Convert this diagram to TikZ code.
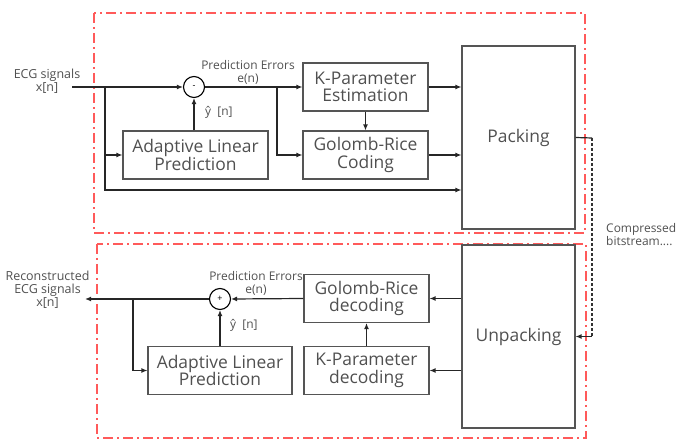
\documentclass[tikz,border=0pt]{standalone}
\usepackage{fontspec}
\setmainfont{Open Sans}
\usetikzlibrary{arrows.meta}
\definecolor{redline}{HTML}{FF5A5A}
\definecolor{boxgray}{HTML}{555555}
\definecolor{txtgray}{HTML}{505050}
\tikzset{
  blk/.style={draw=boxgray, line width=1.1bp, minimum width=125bp, minimum height=48bp, align=center, inner sep=0pt,
    font=\fontsize{17.5}{17.5}\selectfont, text=txtgray},
  bigblk/.style={blk, minimum width=113bp, minimum height=183bp},
  sumnode/.style={circle, draw=black, line width=1.1bp, minimum size=21bp, inner sep=0pt, font=\fontsize{9}{9}\selectfont},
  conn/.style={line width=1.2bp, draw=black!85},
  arr/.style={conn, -{Latex[length=6bp,width=5bp]}},
  lbl/.style={font=\fontsize{12}{13}\selectfont, text=txtgray, align=center, inner sep=0pt},
  region/.style={draw=redline, line width=1.4bp, dash pattern=on 10bp off 4bp on 2bp off 4bp},
  bits/.style={draw=black!80, line width=2bp, dash pattern=on 3bp off 2bp}
}
\begin{document}
\begin{tikzpicture}[x=1bp,y=-1bp]
\useasboundingbox (0,0) rectangle (678,439);
% regions
\draw[region] (94,13) rectangle (585,233);
\draw[region] (97,244) rectangle (586,438);

% top blocks
\node[blk, minimum width=145bp] (alp1) at (195.5,155) {Adaptive Linear\\Prediction};
\node[blk] (kpe) at (365.5,87) {K-Parameter\\Estimation};
\node[blk] (grc) at (365.5,155) {Golomb-Rice\\Coding};
\node[bigblk] (pack) at (518.5,137.5) {Packing};
\node[sumnode] (sub) at (194,87) {-};

% bottom blocks
\node[blk] (grd) at (366.5,298.5) {Golomb-Rice\\decoding};
\node[blk] (kpd) at (366.5,370.5) {K-Parameter\\decoding};
\node[blk, minimum width=144bp] (alp2) at (220,370.5) {Adaptive Linear\\Prediction};
\node[bigblk] (unpack) at (518.5,336.5) {Unpacking};
\node[sumnode] (add) at (220,299) {+};

% labels
\node[lbl, font=\fontsize{12.5}{13}\selectfont] (lin) at (47,81) {ECG signals\\x[n]};
\node[lbl] (pe1) at (248,72) {Prediction Errors\\e(n)};
\node[lbl, anchor=west] (yh1) at (205,112) {ŷ\ \ [n]};
\node[lbl, font=\fontsize{12.5}{13}\selectfont] (lout) at (47.5,290) {Reconstructed\\ECG signals\\x[n]};
\node[lbl] (pe2) at (256,283.5) {Prediction Errors\\e(n)};
\node[lbl, anchor=west] (yh2) at (230,325) {ŷ\ \ [n]};
\node[lbl, align=left, anchor=west] (cb) at (606,234.5) {Compressed\\bitstream....};

% top connectors
\coordinate (in1) at (72,87);
\coordinate (b1) at (105,87);
\coordinate (b1d) at (105,190);
\coordinate (b2) at (277,87);
\draw[arr] (in1) -- (sub.west);
\draw[arr] (b1) |- (alp1.west);
\draw[arr] (b1) -- (b1d) -- (b1d -| pack.west);
\draw[arr] (alp1.north -| sub.south) -- (sub.south);
\draw[arr] (sub.east) -- (kpe.west);
\draw[arr] (b2) |- (grc.west);
\draw[arr] (kpe.south) -- (grc.north);
\draw[arr] (kpe.east) -- (kpe.east -| pack.west);
\draw[arr] (grc.east) -- (grc.east -| pack.west);

% bitstream
\coordinate (bs1) at (592,138);
\coordinate (bs2) at (592,336.5);
\draw[conn] (pack.east) -- (bs1);
\draw[bits] (bs1) -- (bs2);
\draw[arr] (bs2) -- (unpack.east);

% bottom connectors
\coordinate (out1) at (85,299);
\coordinate (b3) at (133,299);
\draw[arr] (grd.east -| unpack.west) -- (grd.east);
\draw[arr] (kpd.east -| unpack.west) -- (kpd.east);
\draw[arr] (kpd.north) -- (grd.south);
\draw[arr] (grd.west) -- (add.east);
\draw[arr] (add.west) -- (out1);
\draw[arr] (b3) |- (alp2.west);
\draw[arr] (alp2.north) -- (add.south);
\end{tikzpicture}
\end{document}
